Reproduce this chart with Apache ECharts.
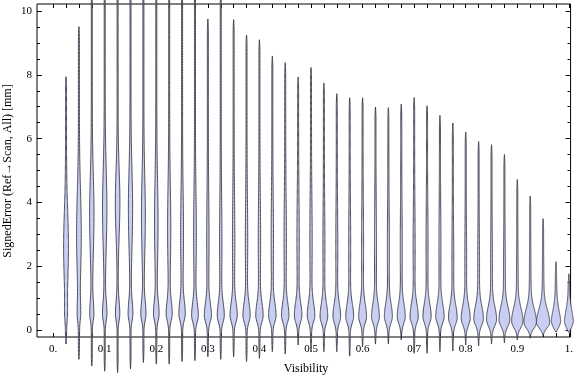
<!DOCTYPE html>
<html>
<head>
<meta charset="utf-8">
<script src="https://cdn.jsdelivr.net/npm/echarts@6/dist/echarts.min.js"></script>
<style>html,body{margin:0;padding:0;background:#fff}#c{width:576px;height:377px}</style>
</head>
<body>
<div id="c"></div>
<script>
// ---- data ----
const visibility = [0.025,0.05,0.075,0.1,0.125,0.15,0.175,0.2,0.225,0.25,0.275,0.3,0.325,0.35,0.375,0.4,0.425,0.45,0.475,0.5,0.525,0.55,0.575,0.6,0.625,0.65,0.675,0.7,0.725,0.75,0.775,0.8,0.825,0.85,0.875,0.9,0.925,0.95,0.975,1.0];
const maxErr = [7.94,9.51,11.5,12.0,12.5,12.2,11.8,11.5,11.2,11.0,10.8,9.75,10.8,9.73,9.25,9.1,8.59,8.38,7.93,8.23,7.74,7.41,7.28,7.28,6.99,6.97,7.08,7.29,7.03,6.73,6.49,6.21,5.91,5.81,5.50,4.72,4.2,3.49,2.14,1.76];
const minErr = [-0.44,-0.92,-1.13,-1.29,-1.33,-1.22,-1.02,-1.07,-1.07,-0.99,-0.96,-0.84,-0.92,-0.84,-0.99,-0.89,-0.68,-0.75,-0.47,-0.68,-0.68,-0.68,-0.82,-0.53,-0.44,-0.44,-0.31,-0.73,-0.73,-0.68,-0.66,-0.47,-0.5,-0.44,-0.4,-0.31,-0.26,-0.18,-0.07,-0.08];
// main (low) mode of each distribution and its relative density
const lowMode = [0.5,0.5,0.5,0.5,0.5,0.5,0.5,0.5,0.5,0.5,0.45,0.45,0.45,0.45,0.45,0.45,0.45,0.45,0.45,0.45,0.42,0.42,0.42,0.42,0.42,0.42,0.42,0.42,0.42,0.42,0.38,0.36,0.35,0.33,0.32,0.28,0.25,0.23,0.17,0.17];
const lowDensity = [0.8,1.2,1.8,2.0,2.0,2.2,2.4,2.6,2.8,3.0,3.2,3.4,3.4,3.5,3.5,3.6,3.6,3.6,3.7,3.7,3.8,3.8,3.9,3.9,3.9,4.0,4.0,4.1,4.1,4.2,4.4,4.6,4.9,5.2,5.6,6.0,6.6,7.0,5.0,4.6];
// secondary (upper) mode
const upMode = [2.6,3.0,3.6,3.8,4.0,3.8,3.6,3.4,3.2,3.0,3.0,2.8,2.8,2.8,2.8,2.8,2.8,2.8,2.8,2.8,2.6,2.6,2.6,2.6,2.6,2.6,2.6,2.6,2.6,2.6,2.2,2.2,2.0,2.0,1.8,1.6,1.4,1.2,0.9,0.8];
const upDensity = [2.3,2.2,2.0,2.0,2.1,1.9,1.7,1.5,1.3,1.1,1.0,0.8,0.8,0.8,0.8,0.8,0.8,0.8,0.8,0.8,0.6,0.6,0.6,0.6,0.6,0.6,0.6,0.6,0.6,0.6,0.5,0.5,0.5,0.5,0.5,0.4,0.4,0.4,0.4,0.4];
const upSpread = [1.1,1.3,1.2,1.2,1.0,1.2,1.2,1.3,1.3,1.3,1.3,1.3,1.3,1.3,1.3,1.3,1.3,1.3,1.3,1.3,1.2,1.2,1.2,1.2,1.2,1.2,1.2,1.2,1.2,1.2,1.0,1.0,1.0,1.0,1.0,0.8,0.8,0.7,0.5,0.5];

const xLabelValues = [0,0.1,0.2,0.3,0.4,0.5,0.6,0.7,0.8,0.9,1.0];
const xLabels = ['0.','0.1','0.2','0.3','0.4','0.5','0.6','0.7','0.8','0.9','1.'];
const yLabelValues = [0,2,4,6,8,10];

// ---- layout / style ----
const XMIN = -0.0313, XMAX = 1.0033, YMIN = -0.219, YMAX = 10.22;
const xTicks = [0].concat(visibility);
const yMinor = [];
for (let v = 0.5; v < 10.1; v += 0.5) { if (Math.abs(v % 2) > 1e-6) yMinor.push(+v.toFixed(1)); }
const FONT = 'Liberation Serif';
const SD_DOWN = 0.2, SD_UP = 0.4, BASE = 0.5, PX = 0.85;

function halfWidth(i, v) {
  const lm = lowMode[i];
  const sd = v < lm ? SD_DOWN : SD_UP;
  const a = (v - lm) / sd;
  const b = (v - upMode[i]) / upSpread[i];
  let w = lowDensity[i] * Math.exp(-0.5 * a * a) + upDensity[i] * Math.exp(-0.5 * b * b);
  w = w * PX + BASE;
  const t1 = Math.min(1, (v - minErr[i]) / 0.35), t2 = Math.min(1, (maxErr[i] - v) / 0.35);
  return w * Math.pow(Math.max(0, Math.min(t1, t2)), 0.6);
}

function renderItem(params, api) {
  const x = api.value(0), i = api.value(1);
  const lo = minErr[i], hi = maxErr[i];
  const n = 240;
  const left = [], right = [];
  for (let k = 0; k <= n; k++) {
    const v = lo + (hi - lo) * k / n;
    const p = api.coord([x, v]);
    const w = halfWidth(i, v);
    left.push([p[0] - w, p[1]]);
    right.push([p[0] + w, p[1]]);
  }
  const pts = left.concat(right.reverse());
  return {
    type: 'polygon',
    shape: { points: pts },
    style: { fill: '#c9cef3', stroke: 'rgba(50,50,60,0.9)', lineWidth: 0.95 }
  };
}

const chart = echarts.init(document.getElementById('c'), null, { renderer: 'canvas' });
const tickStyle = { color: '#000', width: 1 };
const noLine = { show: false, onZero: false };
chart.setOption({
  animation: false,
  backgroundColor: '#fff',
  grid: { left: 37, top: 4, right: 1, bottom: 40, show: true, borderColor: '#000', borderWidth: 1, backgroundColor: 'transparent' },
  xAxis: [
    { type: 'value', min: XMIN, max: XMAX, position: 'bottom', axisLine: noLine, splitLine: { show: false },
      axisTick: { show: true, inside: true, length: 4, customValues: xTicks, lineStyle: tickStyle },
      axisLabel: { customValues: xLabelValues, margin: 7, color: '#000', fontFamily: FONT, fontSize: 11,
        formatter: v => { const j = xLabelValues.findIndex(u => Math.abs(u - v) < 1e-6); return j >= 0 ? xLabels[j] : ''; } } },
    { type: 'value', min: XMIN, max: XMAX, position: 'top', axisLine: noLine, splitLine: { show: false },
      axisTick: { show: true, inside: true, length: 4, customValues: xTicks, lineStyle: tickStyle },
      axisLabel: { show: false } }
  ],
  yAxis: [
    { type: 'value', min: YMIN, max: YMAX, position: 'left', axisLine: noLine, splitLine: { show: false },
      axisTick: { show: true, inside: true, length: 5, customValues: yLabelValues, lineStyle: tickStyle },
      axisLabel: { customValues: yLabelValues, margin: 5, color: '#000', fontFamily: FONT, fontSize: 11 } },
    { type: 'value', min: YMIN, max: YMAX, position: 'left', axisLine: noLine, splitLine: { show: false },
      axisTick: { show: true, inside: true, length: 3, customValues: yMinor, lineStyle: tickStyle },
      axisLabel: { show: false } },
    { type: 'value', min: YMIN, max: YMAX, position: 'right', axisLine: noLine, splitLine: { show: false },
      axisTick: { show: true, inside: true, length: 5, customValues: yLabelValues, lineStyle: tickStyle },
      axisLabel: { show: false } },
    { type: 'value', min: YMIN, max: YMAX, position: 'right', axisLine: noLine, splitLine: { show: false },
      axisTick: { show: true, inside: true, length: 3, customValues: yMinor, lineStyle: tickStyle },
      axisLabel: { show: false } }
  ],
  graphic: [
    { type: 'text', x: 8, y: 171, rotation: Math.PI / 2,
      style: { text: 'SignedError (Ref\u2192Scan, All) [mm]', fill: '#000', font: '12px "Liberation Serif"', align: 'center', verticalAlign: 'middle' } },
    { type: 'text', x: 306, y: 369,
      style: { text: 'Visibility', fill: '#000', font: '12px "Liberation Serif"', align: 'center', verticalAlign: 'middle' } }
  ],
  series: [{
    type: 'custom', coordinateSystem: 'cartesian2d', xAxisIndex: 0, yAxisIndex: 0, clip: false,
    renderItem: renderItem,
    encode: { x: 0, y: 1 },
    data: visibility.map((x, i) => [x, i]),
    z: 1
  }]
});
</script>
</body>
</html>
